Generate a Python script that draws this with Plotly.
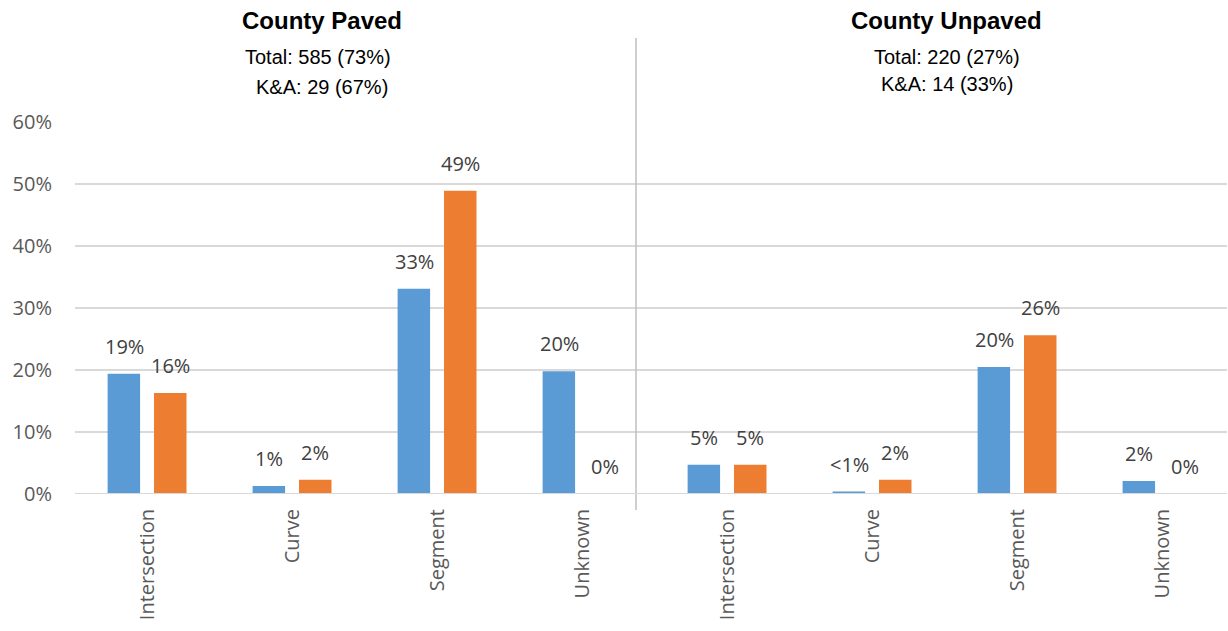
import plotly.graph_objects as go

# Road type categories, repeated for the paved and unpaved panels
categories = ["Intersection", "Curve", "Segment", "Unknown",
              "Intersection", "Curve", "Segment", "Unknown"]

# Share of crashes (fraction) for each series
all_crashes = [0.194, 0.013, 0.331, 0.198, 0.047, 0.004, 0.205, 0.021]
ka_crashes = [0.163, 0.023, 0.489, 0.0, 0.047, 0.023, 0.256, 0.0]

all_labels = ["19%", "1%", "33%", "20%", "5%", "<1%", "20%", "2%"]
ka_labels = ["16%", "2%", "49%", "0%", "5%", "2%", "26%", "0%"]

panel_titles = ["County Paved", "County Unpaved"]
panel_totals = ["Total: 585 (73%)", "Total: 220 (27%)"]
panel_ka = ["K&A: 29 (67%)", "K&A: 14 (33%)"]

y_ticks = [0, 0.1, 0.2, 0.3, 0.4, 0.5, 0.6]
y_tick_text = ["0%", "10%", "20%", "30%", "40%", "50%", "60%"]

x_pos = list(range(len(categories)))
label_font = dict(family="Open Sans", size=20, color="#404040")

fig = go.Figure()
fig.add_trace(go.Bar(x=x_pos, y=all_crashes, name="All", marker_color="#5B9BD5",
                     marker_line_width=0))
fig.add_trace(go.Bar(x=x_pos, y=ka_crashes, name="K&A", marker_color="#ED7D31",
                     marker_line_width=0))

fig.update_layout(
    width=1228, height=631,
    margin=dict(l=75, r=1, t=122, b=137),
    paper_bgcolor="white", plot_bgcolor="white",
    barmode="group", bargap=0.36, bargroupgap=0.30,
    showlegend=False,
)

fig.update_xaxes(
    range=[-0.497, 7.448],
    tickvals=x_pos, ticktext=categories, tickangle=-90,
    tickfont=dict(family="Open Sans", size=20, color="#595959"),
    showgrid=False, zeroline=False, showline=False, ticks="",
    ticklabelstandoff=10,
)
fig.update_yaxes(
    range=[0, 0.6],
    tickvals=y_ticks, ticktext=y_tick_text,
    tickfont=dict(family="Open Sans", size=20, color="#595959"),
    showgrid=True, gridcolor="#D9D9D9", gridwidth=1.5,
    zeroline=False, showline=False, ticks="",
    ticklabelstandoff=22,
)

# Value labels above each bar pair
for xi, v, lab in zip(x_pos, all_crashes, all_labels):
    fig.add_annotation(x=xi, y=v, xref="x", yref="y", text=lab, showarrow=False,
                       xshift=-23, yshift=12, yanchor="bottom", font=label_font)
for xi, v, lab in zip(x_pos, ka_crashes, ka_labels):
    fig.add_annotation(x=xi, y=v, xref="x", yref="y", text=lab, showarrow=False,
                       xshift=23, yshift=12, yanchor="bottom", font=label_font)

# Vertical divider between the two panels
fig.add_shape(type="line", xref="x", yref="paper",
              x0=3.372, x1=3.372, y0=-0.043, y1=1.226,
              line=dict(color="#BFBFBF", width=1.5))

# Zero baseline drawn over the bars
fig.add_shape(type="line", xref="paper", yref="y",
              x0=0, x1=1, y0=0, y1=0, line=dict(color="#D9D9D9", width=2))

title_x = [1.207, 5.514]
total_x = [1.176, 5.517]
ka_x = [1.207, 5.52]
ka_y = [1.094, 1.102]
for i in range(2):
    fig.add_annotation(x=title_x[i], xref="x", y=1.274, yref="paper",
                       text="<b>" + panel_titles[i] + "</b>", showarrow=False,
                       font=dict(family="Liberation Sans", size=24, color="#000000"),
                       yanchor="middle")
    fig.add_annotation(x=total_x[i], xref="x", y=1.174, yref="paper",
                       text=panel_totals[i], showarrow=False,
                       font=dict(family="Liberation Sans", size=20, color="#000000"),
                       yanchor="middle")
    fig.add_annotation(x=ka_x[i], xref="x", y=ka_y[i], yref="paper",
                       text=panel_ka[i], showarrow=False,
                       font=dict(family="Liberation Sans", size=20, color="#000000"),
                       yanchor="middle")

fig.write_html("out.html")
